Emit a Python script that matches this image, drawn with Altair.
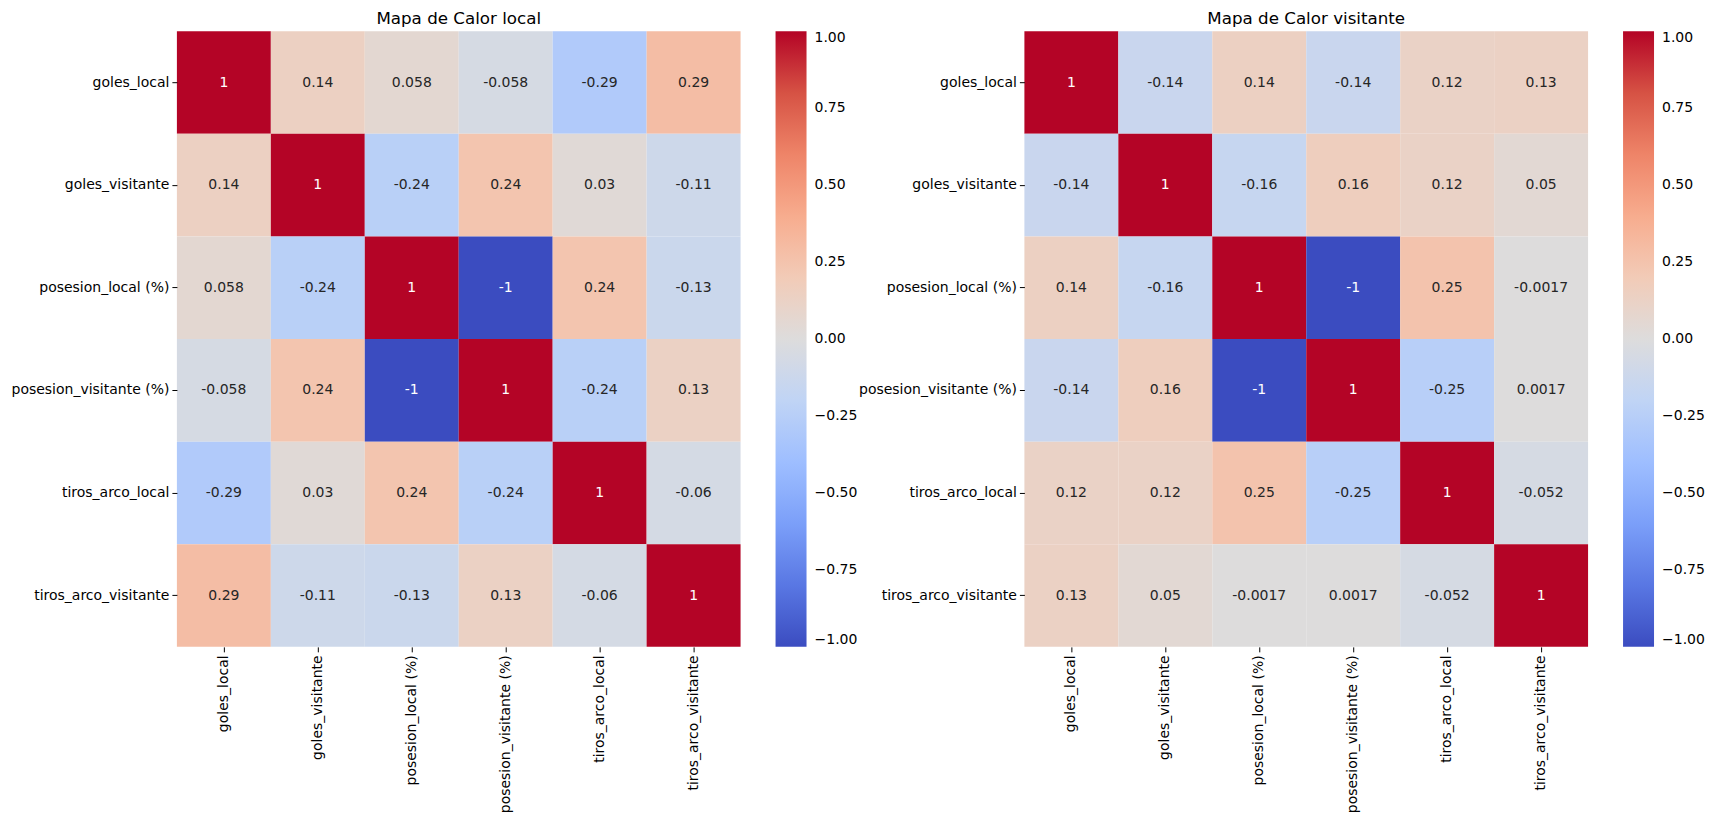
import altair as alt
import pandas as pd

variables = [
    "goles_local",
    "goles_visitante",
    "posesion_local (%)",
    "posesion_visitante (%)",
    "tiros_arco_local",
    "tiros_arco_visitante",
]

# Correlation matrix "local" (row by row)
local_goles_local = [1, 0.14, 0.058, -0.058, -0.29, 0.29]
local_goles_visitante = [0.14, 1, -0.24, 0.24, 0.03, -0.11]
local_posesion_local = [0.058, -0.24, 1, -1, 0.24, -0.13]
local_posesion_visitante = [-0.058, 0.24, -1, 1, -0.24, 0.13]
local_tiros_local = [-0.29, 0.03, 0.24, -0.24, 1, -0.06]
local_tiros_visitante = [0.29, -0.11, -0.13, 0.13, -0.06, 1]

# Correlation matrix "visitante" (row by row)
vis_goles_local = [1, -0.14, 0.14, -0.14, 0.12, 0.13]
vis_goles_visitante = [-0.14, 1, -0.16, 0.16, 0.12, 0.05]
vis_posesion_local = [0.14, -0.16, 1, -1, 0.25, -0.0017]
vis_posesion_visitante = [-0.14, 0.16, -1, 1, -0.25, 0.0017]
vis_tiros_local = [0.12, 0.12, 0.25, -0.25, 1, -0.052]
vis_tiros_visitante = [0.13, 0.05, -0.0017, 0.0017, -0.052, 1]

local_rows = [local_goles_local, local_goles_visitante, local_posesion_local,
              local_posesion_visitante, local_tiros_local, local_tiros_visitante]
vis_rows = [vis_goles_local, vis_goles_visitante, vis_posesion_local,
            vis_posesion_visitante, vis_tiros_local, vis_tiros_visitante]

coolwarm_stops = [-1, -0.8, -0.6, -0.4, -0.2, 0, 0.2, 0.4, 0.6, 0.8, 1]
coolwarm_colors = ["#3b4cc0", "#5977e3", "#7b9ff9", "#9ebeff", "#c0d4f5", "#dddcdc",
                   "#f2cbb7", "#f7ac8e", "#ee8468", "#d65244", "#b40426"]
legend_ticks = [-1, -0.75, -0.5, -0.25, 0, 0.25, 0.5, 0.75, 1]

FONT = "DejaVu Sans"
W, H = 564, 616


def build(rows):
    recs = []
    for r, row in zip(variables, rows):
        for c, v in zip(variables, row):
            recs.append({"fila": r, "columna": c, "valor": v, "texto": f"{v:.2g}"})
    return pd.DataFrame(recs)


def panel(rows, title):
    df = build(rows)
    base = alt.Chart(df).encode(
        x=alt.X("columna:N", sort=variables, title=None,
                scale=alt.Scale(paddingInner=0, paddingOuter=0),
                axis=alt.Axis(labelAngle=-90, domain=False, grid=False, tickSize=5,
                              tickColor="black", tickWidth=1, labelFont=FONT,
                              labelFontSize=14, labelColor="black", labelPadding=3,
                              minExtent=166, maxExtent=166, labelLimit=300)),
        y=alt.Y("fila:N", sort=variables, title=None,
                scale=alt.Scale(paddingInner=0, paddingOuter=0),
                axis=alt.Axis(domain=False, grid=False, tickSize=5, tickColor="black",
                              tickWidth=1, labelFont=FONT, labelFontSize=14,
                              labelColor="black", labelPadding=3,
                              minExtent=166, maxExtent=166, labelLimit=300)),
    )
    rect = base.mark_rect().encode(
        color=alt.Color(
            "valor:Q", title=None,
            scale=alt.Scale(domain=coolwarm_stops, range=coolwarm_colors, interpolate="rgb"),
            legend=alt.Legend(orient="right", offset=35, direction="vertical",
                              gradientLength=H, gradientThickness=31,
                              gradientStrokeWidth=0, values=legend_ticks,
                              labelExpr="format(datum.value, '.2f')",
                              labelFont=FONT, labelFontSize=14, labelColor="black",
                              labelOffset=8, labelOverlap=False, padding=0),
        )
    )
    text = base.mark_text(font=FONT, fontSize=14).encode(
        text="texto:N",
        color=alt.condition("abs(datum.valor) > 0.9", alt.value("white"), alt.value("#262626")),
    )
    return alt.layer(rect, text).properties(
        width=W, height=H,
        title=alt.TitleParams(text=title, font=FONT, fontSize=16.7, fontWeight="normal",
                              color="black", frame="group", anchor="middle", offset=4),
    )


left = panel(local_rows, "Mapa de Calor local")
right = panel(vis_rows, "Mapa de Calor visitante")

chart = (
    alt.hconcat(left, right, spacing=0)
    .resolve_scale(color="independent")
    .configure_view(stroke=None)
    .properties(padding={"left": 2, "top": 2, "right": 0, "bottom": 0}, background="white")
)

chart.save("out.html", embed_options={"renderer": "svg", "actions": False})
